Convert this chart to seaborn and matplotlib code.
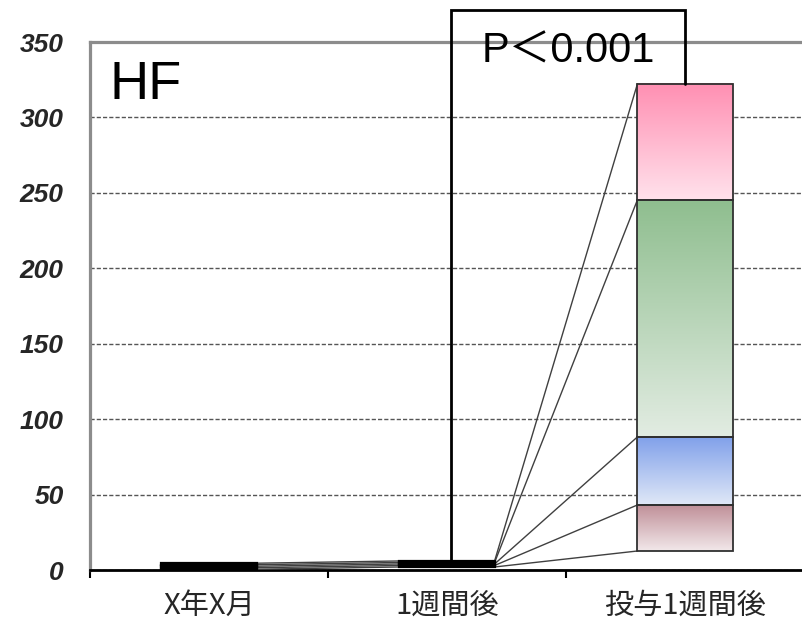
import numpy as np
import pandas as pd
import matplotlib
matplotlib.use("Agg")
import matplotlib.pyplot as plt
import seaborn as sns
from matplotlib.colors import to_rgba

# ---- data -------------------------------------------------------------
categories = ["X年X月", "1週間後", "投与1週間後"]
base_values = [0.5, 2.0, 12.6]      # unfilled offset at the bottom of each column
seg1_values = [1.0, 1.0, 30.5]
seg2_values = [1.0, 1.0, 45.1]
seg3_values = [1.0, 1.0, 157.1]
seg4_values = [1.0, 1.0, 76.9]
y_ticks = [0, 50, 100, 150, 200, 250, 300, 350]
panel_label = "HF"
p_label = "P＜0.001"

segments = [base_values, seg1_values, seg2_values, seg3_values, seg4_values]
# (top colour, bottom colour) of the vertical gradient for each filled segment
gradients = [
    None,
    ("#bf8e97", "#f2e8ea"),
    ("#80a0ea", "#e0e8f7"),
    ("#8fbe8f", "#e2ece2"),
    ("#ff8fb2", "#ffe2ec"),
]

# ---- style ------------------------------------------------------------
sns.set_theme(style="white")
plt.rcParams["font.family"] = ["Liberation Sans", "Noto Sans CJK JP", "DejaVu Sans"]

fig = plt.figure(figsize=(8.02, 6.23), dpi=100)
ax = fig.add_axes([90 / 802, 53 / 623, 714 / 802, 528 / 623])

cum = np.zeros(len(categories))
tops = []          # top of every segment, per column
bar_geom = None    # (left, right) edges of each column
for seg_vals, grad in zip(segments, gradients):
    sub = pd.DataFrame({"category": categories, "value": seg_vals})
    n_before = len(ax.patches)
    sns.barplot(data=sub, x="category", y="value", order=categories,
                bottom=cum.copy(), width=0.4, color="white", errorbar=None,
                ax=ax, zorder=3)
    patches = ax.patches[n_before:]
    if bar_geom is None:
        bar_geom = [(p.get_x(), p.get_x() + p.get_width()) for p in patches]
    for i, p in enumerate(patches):
        p.set_facecolor("none")
        if grad is None:
            p.set_edgecolor("none")
            continue
        if i < 2:
            p.set_edgecolor("black")
            p.set_linewidth(1.6)
        else:
            p.set_edgecolor("#303030")
            p.set_linewidth(1.3)
        x0, y0 = p.get_x(), p.get_y()
        x1, y1 = x0 + p.get_width(), y0 + p.get_height()
        c_top, c_bot = np.array(to_rgba(grad[0])), np.array(to_rgba(grad[1]))
        t = np.linspace(0, 1, 128)[:, None]
        img = (c_top * (1 - t) + c_bot * t)[:, None, :]
        ax.imshow(img, extent=[x0, x1, y0, y1], origin="upper",
                  aspect="auto", interpolation="bilinear", zorder=2.5)
    cum = cum + np.array(seg_vals)
    tops.append(cum.copy())

# series lines joining each segment top between neighbouring columns
for level in tops:
    for k in range(len(categories) - 1):
        ax.plot([bar_geom[k][1], bar_geom[k + 1][0]], [level[k], level[k + 1]],
                color="#404040", lw=1.0, zorder=2.8)

# significance bracket
bracket_top = 371
x_left = 1.015
x_right = (bar_geom[2][0] + bar_geom[2][1]) / 2
ax.plot([x_left, x_left, x_right, x_right],
        [tops[-1][1], bracket_top, bracket_top, tops[-1][2]],
        color="black", lw=2, clip_on=False, zorder=4, solid_joinstyle="miter")
ax.text(1.508, 344, p_label, fontsize=30, ha="center", va="center",
        color="black", zorder=5)
ax.text(-0.42, 312, panel_label, fontsize=39, ha="left", va="baseline",
        color="black", zorder=5)

# ---- axes -------------------------------------------------------------
ax.set_xlim(-0.5, 2.5)
ax.set_ylim(0, 350)
ax.set_xlabel("")
ax.set_ylabel("")
ax.set_xticks(range(len(categories)))
ax.set_xticklabels(categories, fontsize=21,
                   family=["Noto Sans CJK JP", "DejaVu Sans"])
ax.set_xticks([-0.5, 0.5, 1.5, 2.5], minor=True)
ax.tick_params(axis="x", which="major", length=0, pad=15)
ax.tick_params(axis="x", which="minor", length=6, width=1.5, color="black",
               direction="out", bottom=True)
ax.set_yticks(y_ticks)
ax.set_yticklabels([str(v) for v in y_ticks], fontsize=19,
                   fontweight="bold", fontstyle="italic")
ax.tick_params(axis="y", length=0, pad=19)

ax.set_axisbelow(True)
ax.yaxis.grid(True, linestyle=(0, (3, 1.5)), color="#555555", lw=1.0)
ax.xaxis.grid(False)

for side in ("left", "top"):
    ax.spines[side].set_color("#8c8c8c")
    ax.spines[side].set_linewidth(2.3)
ax.spines["bottom"].set_color("black")
ax.spines["bottom"].set_linewidth(2.0)
ax.spines["right"].set_visible(False)
ax.set_facecolor("white")

fig.savefig("out.png", dpi=100, facecolor="white")
